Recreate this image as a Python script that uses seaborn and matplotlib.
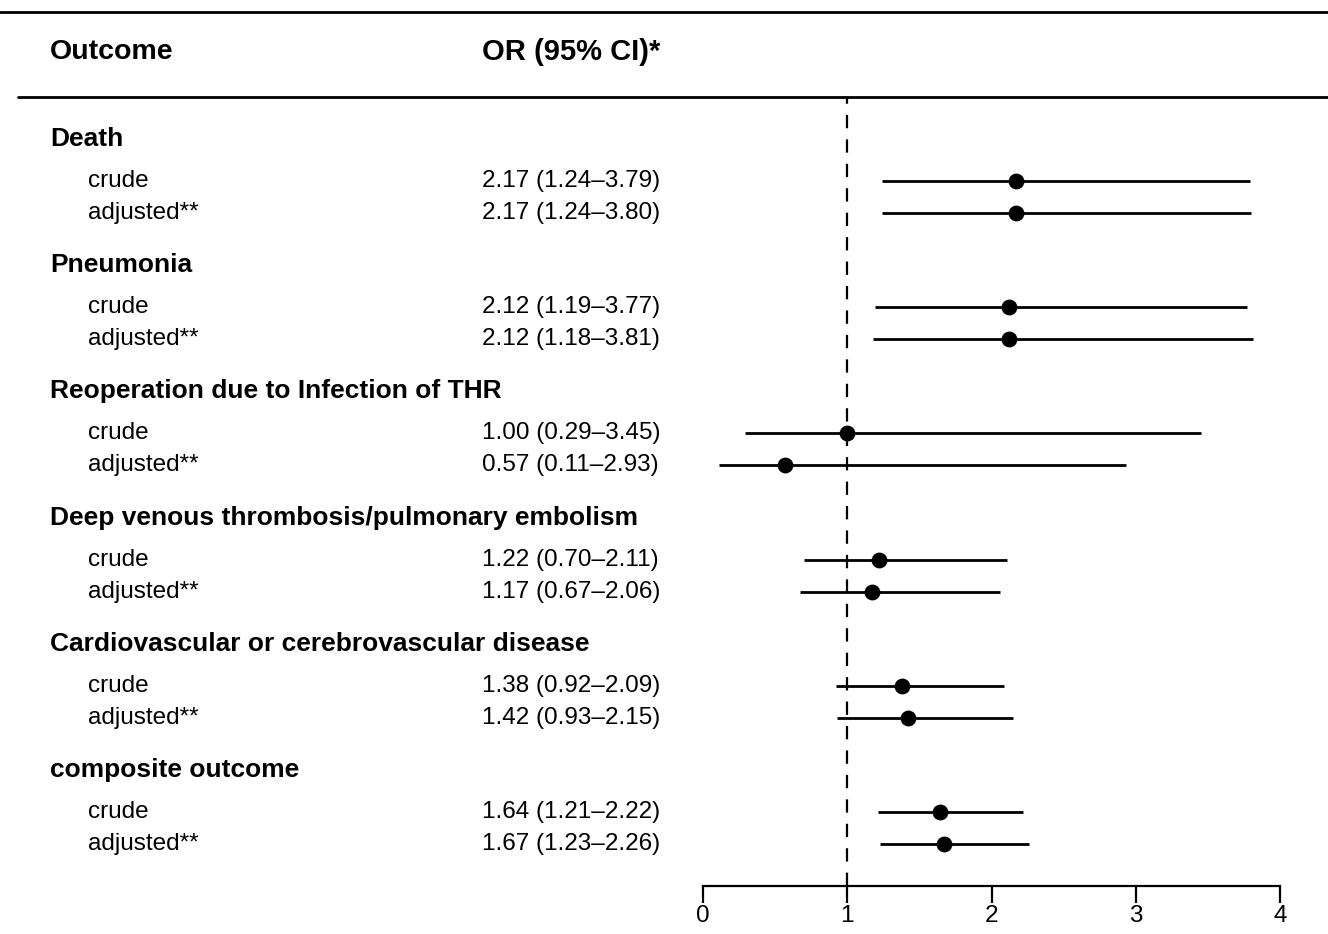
import pandas as pd
import matplotlib.pyplot as plt
import seaborn as sns
from matplotlib.lines import Line2D
from matplotlib.transforms import blended_transform_factory

# Outcomes and odds ratios
outcomes = ['Death', 'Pneumonia', 'Reoperation due to Infection of THR',
            'Deep venous thrombosis/pulmonary embolism',
            'Cardiovascular or cerebrovascular disease', 'composite outcome']
models = ['crude', 'adjusted**']
or_crude = [2.17, 2.12, 1.00, 1.22, 1.38, 1.64]
lo_crude = [1.24, 1.19, 0.29, 0.70, 0.92, 1.21]
hi_crude = [3.79, 3.77, 3.45, 2.11, 2.09, 2.22]
or_adj = [2.17, 2.12, 0.57, 1.17, 1.42, 1.67]
lo_adj = [1.24, 1.18, 0.11, 0.67, 0.93, 1.23]
hi_adj = [3.80, 3.81, 2.93, 2.06, 2.15, 2.26]
xticks = [0, 1, 2, 3, 4]

# row layout (in pixel-like units, top of image = 0)
group_start, group_step = 139, 126.2
sub_offsets = [42, 74]

rows = []
for g, name in enumerate(outcomes):
    for m, (est, lo, hi) in enumerate([(or_crude[g], lo_crude[g], hi_crude[g]),
                                        (or_adj[g], lo_adj[g], hi_adj[g])]):
        rows.append({'outcome': name, 'model': models[m], 'OR': est, 'lo': lo, 'hi': hi,
                     'y': group_start + g * group_step + sub_offsets[m]})
df = pd.DataFrame(rows)

sns.set_style('white')
plt.rcParams['font.family'] = ['Liberation Sans', 'DejaVu Sans']
plt.rcParams['text.color'] = 'black'
plt.rcParams['xtick.color'] = 'black'

W, H = 1328, 934
fig = plt.figure(figsize=(W / 100, H / 100), dpi=100)
ax = fig.add_axes([703 / W, 1 - 886 / H, (1280 - 703) / W, (886 - 97) / H])

ax.hlines(df['y'], df['lo'], df['hi'], color='black', lw=2)
sns.scatterplot(data=df, x='OR', y='y', color='black', s=130, edgecolor='black',
                linewidth=0, zorder=3, ax=ax, legend=False)
ax.axvline(1, color='black', lw=1.6, ls=(0, (6, 5)), zorder=1)

ax.set_xlim(0, 4)
ax.set_ylim(886, 97)
ax.set_xticks(xticks)
ax.set_xticklabels([str(t) for t in xticks])
ax.set_yticks([])
ax.set_xlabel('')
ax.set_ylabel('')
for s in ['top', 'right', 'left']:
    ax.spines[s].set_visible(False)
ax.spines['bottom'].set_linewidth(1.6)
ax.spines['bottom'].set_color('black')
ax.tick_params(axis='x', direction='out', length=12, width=1.6, labelsize=17.5,
               pad=2, bottom=True, colors='black', labelcolor='black')
ax.patch.set_alpha(0)

tr = blended_transform_factory(fig.transFigure, ax.transData)
for g, name in enumerate(outcomes):
    ax.text(50 / W, group_start + g * group_step, name, transform=tr, fontsize=19,
            fontweight='bold', va='center', ha='left', clip_on=False, color='black')
for _, r in df.iterrows():
    ax.text(88 / W, r['y'], r['model'], transform=tr, fontsize=17.5,
            va='center', ha='left', clip_on=False, color='black')
    ax.text(482 / W, r['y'], f"{r['OR']:.2f} ({r['lo']:.2f}\u2013{r['hi']:.2f})",
            transform=tr, fontsize=17.5, va='center', ha='left', clip_on=False,
            color='black')

fig.text(50 / W, 1 - 52 / H, 'Outcome', fontsize=20.5, fontweight='bold',
         va='center', color='black')
fig.text(482 / W, 1 - 52 / H, 'OR (95% CI)*', fontsize=21, fontweight='bold',
         va='center', color='black')
fig.add_artist(Line2D([0, 1], [1 - 12 / H, 1 - 12 / H], color='black', lw=2,
                      transform=fig.transFigure))
fig.add_artist(Line2D([18 / W, 1], [1 - 97 / H, 1 - 97 / H], color='black', lw=2,
                      transform=fig.transFigure))

fig.savefig('out.png', dpi=100)
